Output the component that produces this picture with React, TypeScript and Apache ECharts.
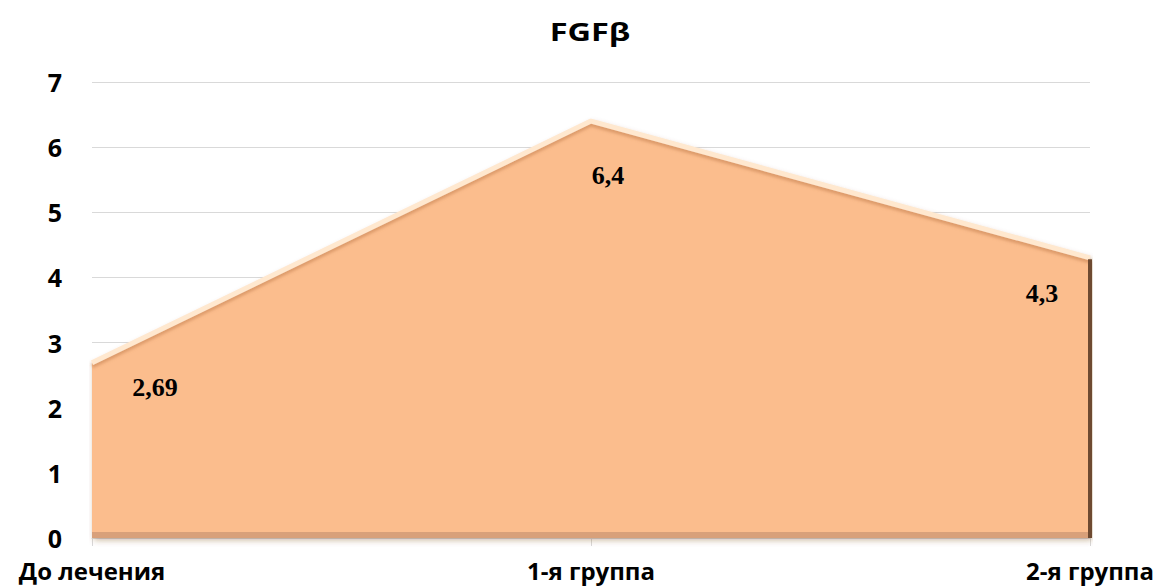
import React, { useEffect, useRef } from "react";
import * as echarts from "echarts";

const categories = ["До лечения", "1-я группа", "2-я группа"];
const values = [2.69, 6.4, 4.3];
const valueLabels = ["2,69", "6,4", "4,3"];
const labelOffsets: [number, number][] = [[63, 25], [17, 54], [-48, 36]];
const titleText = "FGFβ";

export default function App() {
  const ref = useRef<HTMLDivElement>(null);
  useEffect(() => {
    const chart = echarts.init(ref.current!, null, { renderer: "svg" });
    const sans = "'Open Sans', 'Noto Sans', sans-serif";
    chart.setOption({
      animation: false,
      graphic: [
        {
          type: "text",
          x: 590,
          y: 31,
          scaleX: 1.3,
          style: {
            text: titleText,
            fontFamily: sans,
            fontWeight: "bold",
            fontSize: 25,
            fill: "#000",
            align: "center",
            verticalAlign: "middle",
          },
        },
      ],
      grid: { left: 92, right: 73, top: 82, bottom: 50, containLabel: false },
      xAxis: {
        type: "category",
        data: categories,
        boundaryGap: false,
        axisLine: { show: true, lineStyle: { color: "#d9d9d9", width: 1 } },
        axisTick: { show: true, length: 8, lineStyle: { color: "#d9d9d9" } },
        axisLabel: {
          margin: 20,
          fontFamily: sans,
          fontWeight: "bold",
          fontSize: 24,
          color: "#000",
        },
      },
      yAxis: {
        type: "value",
        min: 0,
        max: 7,
        interval: 1,
        axisLine: { show: false },
        axisTick: { show: false },
        splitLine: { lineStyle: { color: "#d9d9d9", width: 1 } },
        axisLabel: {
          margin: 30,
          fontFamily: sans,
          fontWeight: "bold",
          fontSize: 25,
          color: "#000",
        },
      },
      series: [
        {
          type: "line",
          clip: false,
          data: values.map((v, i) => ({
            value: v,
            label: {
              show: true,
              formatter: valueLabels[i],
              position: "inside",
              offset: labelOffsets[i],
              fontFamily: "'Liberation Serif', 'DejaVu Serif', serif",
              fontWeight: "bold",
              fontSize: 26,
              color: "#000",
            },
          })),
          symbol: "circle",
          symbolSize: 1,
          showSymbol: true,
          itemStyle: { color: "rgba(0,0,0,0)" },
          lineStyle: {
            color: "#ffe8cf",
            width: 5,
            shadowColor: "rgba(190,120,70,0.5)",
            shadowBlur: 3,
            shadowOffsetY: 3,
          },
          areaStyle: {
            color: "#fbbd8d",
            opacity: 1,
            shadowColor: "rgba(120,70,30,0.4)",
            shadowBlur: 6,
            shadowOffsetX: 2,
            shadowOffsetY: 2,
          },
          markLine: {
            silent: true,
            symbol: "none",
            label: { show: false },
            lineStyle: { color: "#6e4a31", width: 4, type: "solid" },
            data: [
              [
                { coord: [0, 0.05], lineStyle: { color: "#d8a07a", width: 6, type: "solid" } },
                { coord: [2, 0.05] },
              ],
              [
                { coord: [2, 0], lineStyle: { color: "#6e4a31", width: 4, type: "solid" } },
                { coord: [2, 4.28] },
              ],
            ],
          },
          z: 3,
        },
      ],
    });
    return () => chart.dispose();
  }, []);
  return (
    <div
      ref={ref}
      style={{ position: "fixed", left: 0, top: 0, width: 1163, height: 588, background: "#fff" }}
    />
  );
}
